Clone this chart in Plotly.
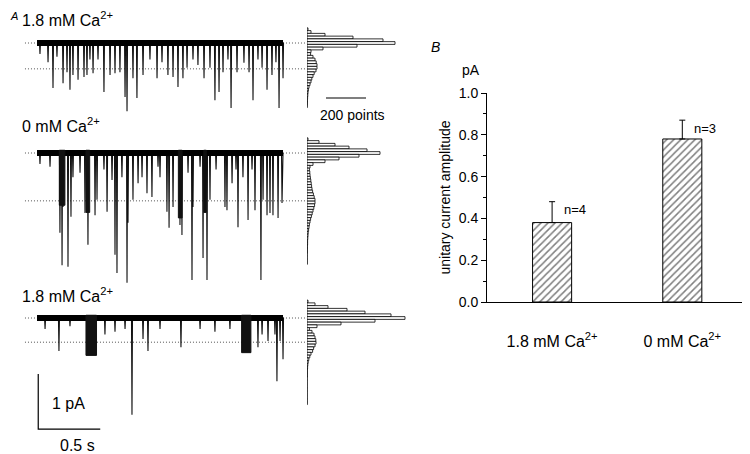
import plotly.graph_objects as go

FONT = "Liberation Sans, Arial, sans-serif"

# ---------------- Panel A data (time in s, current in pA, relative to closed level) ----------------
trace_labels = ["1.8 mM Ca<sup>2+</sup>", "0 mM Ca<sup>2+</sup>", "1.8 mM Ca<sup>2+</sup>"]
trace_offsets = [0.0, -2.0, -5.0]          # vertical placement of each record (pA)
open_levels = [-0.47, -0.87, -0.44]        # open-channel level (pA)
trace_start = 0.0
trace_end = 1.984

t1_spike_t = [0.024, 0.089, 0.129, 0.161, 0.210, 0.242, 0.266, 0.290, 0.331, 0.379, 0.403, 0.427,
              0.452, 0.492, 0.540, 0.589, 0.629, 0.669, 0.710, 0.726, 0.774, 0.806, 0.855, 0.911,
              0.968, 1.008, 1.056, 1.097, 1.137, 1.177, 1.210, 1.258, 1.298, 1.347, 1.395, 1.435,
              1.468, 1.500, 1.540, 1.565, 1.613, 1.669, 1.710, 1.742, 1.782, 1.815, 1.855, 1.895,
              1.927, 1.952, 1.984]
t1_spike_amp = [-0.20, -0.35, -0.82, -0.25, -0.73, -0.53, -0.85, -0.58, -0.67, -0.62, -0.58, -0.30,
                -0.55, -0.30, -0.89, -0.58, -0.55, -0.53, -0.98, -1.24, -0.64, -1.00, -0.58, -0.30,
                -0.64, -0.35, -0.58, -0.62, -0.80, -0.64, -0.45, -0.30, -0.40, -0.64, -0.45, -1.04,
                -0.89, -0.53, -0.30, -1.18, -0.53, -0.36, -0.53, -1.04, -0.30, -0.45, -0.85, -0.58,
                -0.35, -1.18, -0.64]
t1_bursts = []

t2_spike_t = [0.024, 0.105, 0.185, 0.202, 0.210, 0.250, 0.274, 0.290, 0.347, 0.387, 0.411, 0.468,
              0.484, 0.540, 0.565, 0.605, 0.629, 0.645, 0.685, 0.726, 0.734, 0.774, 0.815, 0.847,
              0.887, 0.927, 0.976, 0.992, 1.048, 1.065, 1.097, 1.153, 1.169, 1.218, 1.250, 1.258,
              1.315, 1.339, 1.371, 1.395, 1.444, 1.516, 1.532, 1.573, 1.605, 1.621, 1.661, 1.702,
              1.734, 1.758, 1.806, 1.823, 1.855, 1.879, 1.903, 1.944, 1.976]
t2_spike_amp = [-0.20, -0.25, -1.45, -2.04, -0.98, -2.07, -1.16, -0.44, -0.36, -1.09, -1.67, -1.13,
                -0.85, -0.30, -1.07, -0.49, -1.85, -2.18, -0.44, -2.36, -1.27, -0.85, -0.55, -0.44,
                -0.73, -0.80, -0.25, -0.44, -1.07, -1.36, -0.98, -1.31, -1.49, -0.36, -2.31, -0.98,
                -0.25, -1.91, -2.31, -0.85, -0.30, -0.98, -1.04, -0.55, -0.30, -1.35, -0.44, -1.22,
                -0.30, -1.04, -2.31, -0.85, -1.13, -1.09, -1.13, -1.18, -0.91]
t2_bursts = [(0.180, 0.225, -0.87), (0.395, 0.425, -1.00), (1.140, 1.170, -1.10), (1.345, 1.365, -1.00)]

t3_spike_t = [0.065, 0.177, 0.266, 0.548, 0.629, 0.710, 0.766, 0.855, 0.895, 0.992, 1.161, 1.315,
              1.435, 1.556, 1.782, 1.815, 1.863, 1.919, 1.935, 1.960, 1.984]
t3_spike_amp = [-0.20, -0.60, -0.15, -0.30, -0.25, -0.20, -1.76, -0.38, -0.60, -0.20, -0.53, -0.20,
                -0.25, -0.20, -0.53, -0.30, -0.42, -0.30, -1.15, -0.42, -0.75]
t3_bursts = [(0.395, 0.480, -0.60), (1.650, 1.725, -0.55)]

spike_t = [t1_spike_t, t2_spike_t, t3_spike_t]
spike_amp = [t1_spike_amp, t2_spike_amp, t3_spike_amp]
bursts = [t1_bursts, t2_bursts, t3_bursts]

# amplitude histograms (bin centre in pA relative to closed level, counts in points)
h1_bins = [0.25, 0.20, 0.15, 0.10, 0.05, 0.00, -0.05, -0.10, -0.15, -0.20, -0.25, -0.30, -0.35,
           -0.40, -0.45, -0.50, -0.55, -0.60, -0.65, -0.70, -0.75, -0.80, -0.85, -0.90, -0.95,
           -1.00, -1.05, -1.10, -1.15]
h1_counts = [5, 20, 90, 230, 380, 440, 250, 80, 20, 18, 30, 40, 46, 50, 50, 45, 36, 30, 24, 20,
             15, 10, 7, 5, 4, 3, 2, 2, 1]
h2_bins = [0.25, 0.20, 0.15, 0.10, 0.05, 0.00, -0.05, -0.10, -0.15, -0.20, -0.25, -0.30, -0.35,
           -0.40, -0.45, -0.50, -0.55, -0.60, -0.65, -0.70, -0.75, -0.80, -0.85, -0.90, -0.95,
           -1.00, -1.05, -1.10, -1.15, -1.20, -1.25, -1.30, -1.35, -1.40, -1.45, -1.50, -1.55,
           -1.60, -1.65, -1.70, -1.75, -1.80, -1.85, -1.90, -1.95, -2.00]
h2_counts = [5, 60, 140, 210, 300, 365, 260, 160, 90, 30, 15, 12, 14, 15, 17, 19, 21, 23, 25, 28,
             32, 36, 40, 40, 38, 34, 30, 26, 22, 18, 15, 12, 10, 8, 6, 5, 4, 3, 3, 2, 2, 2, 1, 1,
             1, 1]
h3_bins = [0.30, 0.25, 0.20, 0.15, 0.10, 0.05, 0.00, -0.05, -0.10, -0.15, -0.20, -0.25, -0.30,
           -0.35, -0.40, -0.45, -0.50, -0.55, -0.60, -0.65, -0.70, -0.75, -0.80, -0.85, -0.90,
           -0.95, -1.00, -1.05, -1.10, -1.15, -1.20, -1.25, -1.30, -1.35, -1.40, -1.45, -1.50,
           -1.55]
h3_counts = [5, 40, 105, 200, 290, 420, 490, 340, 170, 50, 12, 25, 35, 40, 44, 45, 40, 33, 28, 20,
             14, 9, 6, 4, 3, 2, 2, 2, 1, 1, 1, 1, 1, 1, 1, 1, 1, 1]
hist_bins = [h1_bins, h2_bins, h3_bins]
hist_counts = [h1_counts, h2_counts, h3_counts]
bin_width = 0.05

scale_pA = 1.0
scale_s = 0.5
scale_points = 200

# ---------------- Panel B data ----------------
categories = ["1.8 mM Ca<sup>2+</sup>", "0 mM Ca<sup>2+</sup>"]
amplitudes = [0.38, 0.78]
sem = [0.10, 0.09]
n_cells = [4, 3]

# ---------------- layout geometry (the page body adds an 8 px margin) ----------------
PAGE_PAD = 8
W, H = 750 - PAGE_PAD, 454 - PAGE_PAD


def px(xp):
    return (xp - PAGE_PAD) / W


def py(yp):
    return 1 - (yp - PAGE_PAD) / H


fig = go.Figure()

# dotted reference lines (closed / open levels)
for off, lvl in zip(trace_offsets, open_levels):
    for yv in (off, off + lvl):
        fig.add_trace(go.Scatter(x=[-0.097, 2.95], y=[yv, yv], mode="lines",
                                 line=dict(color="#555", width=1, dash="1px,2px"),
                                 xaxis="x", yaxis="y", hoverinfo="skip", showlegend=False))

# single-channel records
for off, st, sa, br in zip(trace_offsets, spike_t, spike_amp, bursts):
    xs, ys = [trace_start], [off]
    for t, a in sorted(zip(st, sa)):
        xs += [t - 0.004, t, t + 0.004]
        ys += [off, off + a, off]
    xs.append(trace_end)
    ys.append(off)
    fig.add_trace(go.Scatter(x=xs, y=ys, mode="lines", line=dict(color="#111", width=1.1),
                             xaxis="x", yaxis="y", hoverinfo="skip", showlegend=False))
    fig.add_trace(go.Scatter(x=[trace_start, trace_end], y=[off, off], mode="lines",
                             line=dict(color="black", width=6),
                             xaxis="x", yaxis="y", hoverinfo="skip", showlegend=False))
    if br:
        bx, by = [], []
        for s, e, l in br:
            bx += [s, s, e, e, s, None]
            by += [off + 0.05, off + l - 0.08, off + l - 0.08, off + 0.05, off + 0.05, None]
        fig.add_trace(go.Scatter(x=bx, y=by, mode="lines", fill="toself", fillcolor="#111",
                                 line=dict(color="#111", width=1),
                                 xaxis="x", yaxis="y", hoverinfo="skip", showlegend=False))

# amplitude histograms
for off, hb, hc in zip(trace_offsets, hist_bins, hist_counts):
    fig.add_trace(go.Bar(x=hc, y=[off + b for b in hb], orientation="h", width=bin_width,
                         marker=dict(color="white", line=dict(color="black", width=0.8)),
                         xaxis="x2", yaxis="y", hoverinfo="skip", showlegend=False))

# scale bars
fig.add_trace(go.Scatter(x=[0.01, 0.01, 0.01 + scale_s], y=[-7.02 + scale_pA, -7.02, -7.02],
                         mode="lines", line=dict(color="black", width=1.2),
                         xaxis="x", yaxis="y", hoverinfo="skip", showlegend=False))
fig.add_trace(go.Scatter(x=[95, 95 + scale_points], y=[-1.0, -1.0], mode="lines",
                         line=dict(color="black", width=1.2),
                         xaxis="x2", yaxis="y", hoverinfo="skip", showlegend=False))

# Panel B bars
fig.add_trace(go.Bar(x=[0, 1], y=amplitudes, width=0.3,
                     marker=dict(color="white", line=dict(color="black", width=1),
                                 pattern=dict(shape="/", fgcolor="black", bgcolor="white",
                                              size=5, solidity=0.3)),
                     error_y=dict(type="data", symmetric=False, array=sem,
                                  arrayminus=[0] * len(sem), color="black", thickness=1, width=3),
                     xaxis="x3", yaxis="y3", showlegend=False))

annotations = []
label_y = [0.44, -1.49, -4.58]
for lab, ly in zip(trace_labels, label_y):
    annotations.append(dict(text=lab, x=-0.137, y=ly, xref="x", yref="y", xanchor="left",
                            yanchor="middle", showarrow=False, font=dict(size=16, family=FONT)))
annotations += [
    dict(text="<i>A</i>", x=px(8), y=py(16), xref="paper", yref="paper",
         xanchor="left", yanchor="middle", showarrow=False, font=dict(size=11, family=FONT)),
    dict(text="1 pA", x=0.105, y=-6.55, xref="x", yref="y", xanchor="left", yanchor="middle",
         showarrow=False, font=dict(size=16, family=FONT)),
    dict(text="0.5 s", x=0.17, y=-7.31, xref="x", yref="y", xanchor="left", yanchor="middle",
         showarrow=False, font=dict(size=16, family=FONT)),
    dict(text="200 points", x=225, y=-1.31, xref="x2", yref="y", xanchor="center",
         yanchor="middle", showarrow=False, font=dict(size=14, family=FONT)),
    dict(text="<i>B</i>", x=px(429), y=py(47), xref="paper", yref="paper",
         xanchor="left", yanchor="middle", showarrow=False, font=dict(size=14, family=FONT)),
    dict(text="pA", x=px(460), y=py(70), xref="paper", yref="paper", xanchor="left",
         yanchor="middle", showarrow=False, font=dict(size=14, family=FONT)),
]
for i, (v, e, n) in enumerate(zip(amplitudes, sem, n_cells)):
    annotations.append(dict(text=f"n={n}", x=i, y=v + e, xref="x3", yref="y3", xanchor="left",
                            yanchor="middle", xshift=10, yshift=-8, showarrow=False,
                            font=dict(size=13, family=FONT)))

fig.update_layout(
    width=W, height=H,
    margin=dict(l=0, r=0, t=0, b=0, autoexpand=False),
    paper_bgcolor="white", plot_bgcolor="white",
    barmode="overlay",
    font=dict(family=FONT, color="black"),
    showlegend=False,
    xaxis=dict(domain=[0, px(420)], range=[(PAGE_PAD - 37) / 124, (420 - 37) / 124],
               visible=False, automargin=False),
    yaxis=dict(domain=[0, 1], range=[(43 - 454) / 55, (43 - PAGE_PAD) / 55],
               visible=False, automargin=False),
    xaxis2=dict(domain=[px(307), px(420)], range=[0, 565], visible=False, anchor="y",
                automargin=False),
    xaxis3=dict(domain=[px(487), 1.0], range=[-0.5, 1.52], anchor="y3", automargin=False,
                showline=True, linecolor="black", linewidth=1, ticks="",
                tickvals=[0, 1], ticktext=categories, tickfont=dict(size=16, family=FONT),
                ticklabelstandoff=25, showgrid=False, zeroline=False),
    yaxis3=dict(domain=[py(302), py(93)], range=[0, 1.0], anchor="x3",
                automargin=False,
                showline=True, linecolor="black", linewidth=1, ticks="outside", ticklen=5,
                tickcolor="black", dtick=0.2, tickformat=".1f",
                tickfont=dict(size=14, family=FONT),
                minor=dict(dtick=0.1, ticks="outside", ticklen=3, tickcolor="black"),
                showgrid=False, zeroline=False,
                title=dict(text="unitary current amplitude", font=dict(size=14, family=FONT),
                           standoff=4)),
    annotations=annotations,
)

fig.write_html("out.html")
